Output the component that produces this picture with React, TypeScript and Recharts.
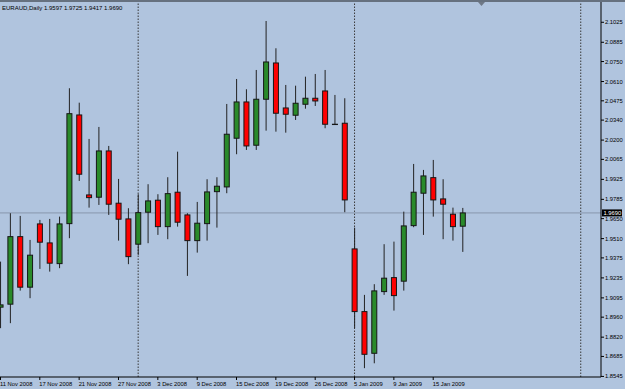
import { ComposedChart, Bar, XAxis, YAxis, ReferenceLine } from "recharts"

// EURAUD daily bars, 11 Nov 2008 .. 20 Jan 2009
const dates = [
  "11 Nov 2008", "12 Nov 2008", "13 Nov 2008", "14 Nov 2008", "17 Nov 2008", "18 Nov 2008",
  "19 Nov 2008", "20 Nov 2008", "21 Nov 2008", "24 Nov 2008", "25 Nov 2008", "26 Nov 2008",
  "27 Nov 2008", "28 Nov 2008", "1 Dec 2008", "2 Dec 2008", "3 Dec 2008", "4 Dec 2008",
  "5 Dec 2008", "8 Dec 2008", "9 Dec 2008", "10 Dec 2008", "11 Dec 2008", "12 Dec 2008",
  "15 Dec 2008", "16 Dec 2008", "17 Dec 2008", "18 Dec 2008", "19 Dec 2008", "22 Dec 2008",
  "23 Dec 2008", "24 Dec 2008", "26 Dec 2008", "29 Dec 2008", "30 Dec 2008", "31 Dec 2008",
  "5 Jan 2009", "6 Jan 2009", "7 Jan 2009", "8 Jan 2009", "9 Jan 2009", "12 Jan 2009",
  "13 Jan 2009", "14 Jan 2009", "15 Jan 2009", "16 Jan 2009", "19 Jan 2009", "20 Jan 2009",
]

const open = [
  1.9030, 1.9051, 1.9524, 1.9170, 1.9613, 1.9480, 1.9335, 1.9615, 2.0376, 1.9816, 1.9800, 2.0124,
  1.9758, 1.9648, 1.9471, 1.9695, 1.9779, 1.9594, 1.9835, 1.9676, 1.9496, 1.9615, 1.9839, 1.9872,
  2.0213, 2.0467, 2.0164, 2.0486, 2.0740, 2.0425, 2.0374, 2.0451, 2.0493, 2.0544, 2.0311, 2.0318,
  1.9438, 1.8999, 1.8707, 1.9139, 1.9237, 1.9212, 1.9601, 1.9828, 1.9937, 1.9788, 1.9681, 1.9597,
]
const high = [
  1.9349, 1.9688, 1.9669, 1.9501, 1.9641, 1.9648, 1.9664, 2.0563, 2.0462, 2.0208, 2.0292, 2.0159,
  1.9928, 1.9723, 1.9821, 1.9891, 1.9821, 1.9940, 2.0119, 1.9688, 1.9767, 1.9926, 1.9940, 2.0453,
  2.0628, 2.0556, 2.0691, 2.1034, 2.0843, 2.0586, 2.0581, 2.0644, 2.0663, 2.0691, 2.0516, 2.0493,
  1.9587, 1.9116, 1.9191, 1.9471, 1.9489, 1.9699, 2.0033, 1.9991, 2.0061, 1.9926, 1.9727, 1.9725,
]
const low = [
  1.8883, 1.8918, 1.9146, 1.9093, 1.9298, 1.9279, 1.9303, 1.9513, 1.9914, 1.9727, 1.9746, 1.9676,
  1.9496, 1.9331, 1.9396, 1.9478, 1.9536, 1.9506, 1.9594, 1.9249, 1.9412, 1.9496, 1.9587, 1.9828,
  2.0101, 2.0131, 2.0131, 2.0266, 2.0259, 2.0252, 2.0341, 2.0420, 2.0439, 2.0283, 2.0306, 1.9695,
  1.8883, 1.8603, 1.8637, 1.9116, 1.9006, 1.9146, 1.9590, 1.9536, 1.9664, 1.9506, 1.9496, 1.9417,
]
const close = [
  1.9046, 1.9524, 1.9170, 1.9394, 1.9485, 1.9338, 1.9613, 2.0385, 1.9961, 1.9797, 2.0124, 1.9751,
  1.9646, 1.9384, 1.9692, 1.9774, 1.9594, 1.9825, 1.9625, 1.9496, 1.9618, 1.9837, 1.9877, 2.0241,
  2.0467, 2.0159, 2.0486, 2.0747, 2.0388, 2.0381, 2.0458, 2.0493, 2.0474, 2.0311, 2.0310, 1.9781,
  1.8999, 1.8700, 1.9144, 1.9233, 1.9111, 1.9599, 1.9835, 1.9949, 1.9781, 1.9751, 1.9594, 1.9690,
]

const priceTicks = [
  2.1025, 2.0885, 2.075, 2.061, 2.0475, 2.034, 2.02, 2.0065, 1.9925, 1.9785,
  1.965, 1.951, 1.9375, 1.9235, 1.9095, 1.896, 1.882, 1.8685, 1.8545,
]
const dateTicks = [0, 4, 8, 12, 16, 20, 24, 28, 32, 36, 40, 44]
const monthStarts = [14, 36, 59]
const symbol = "EURAUD,Daily"
const lastPrice = 1.969

const data = dates.map((date, i) => ({
  i,
  date,
  open: open[i],
  high: high[i],
  low: low[i],
  close: close[i],
}))

const FONT = "'Liberation Sans', Arial, sans-serif"
const BG = "#b0c4de"

function Candle(props: any) {
  const { x, y, width, height, payload } = props
  if (x == null || y == null) return null
  const cx = x + width / 2
  const top = Math.min(y, y + height)
  const span = Math.abs(height)
  const range = payload.high - payload.low || 1
  const px = (v: number) => top + ((payload.high - v) / range) * span
  const up = payload.close >= payload.open
  const bTop = px(Math.max(payload.open, payload.close))
  const bBot = px(Math.min(payload.open, payload.close))
  return (
    <g>
      <line x1={cx} x2={cx} y1={top} y2={top + span} stroke="#222" strokeWidth={1} />
      <rect
        x={cx - 2.5}
        y={bTop}
        width={5}
        height={Math.max(bBot - bTop, 0.3)}
        fill={up ? "#2a8a2a" : "#ff0000"}
        stroke="#161616"
        strokeWidth={1}
      />
    </g>
  )
}

function DateTick(props: any) {
  const { x, y, payload } = props
  return (
    <text x={x - 0.5} y={y} dy="0.71em" textAnchor="start" fontSize={5.8} fontFamily={FONT} fill="#000">
      {dates[payload.value]}
    </text>
  )
}

function PriceBox(props: any) {
  const { viewBox } = props
  const bx = viewBox.x + viewBox.width + 1
  return (
    <g>
      <rect x={bx} y={viewBox.y - 3.5} width={20} height={7} fill="#000" />
      <text x={bx + 1.5} y={viewBox.y + 2.1} fontSize={5.8} fontFamily={FONT} fill="#fff">
        {lastPrice.toFixed(4)}
      </text>
    </g>
  )
}

export default function App() {
  const last = data[data.length - 1]
  return (
    <div
      style={{
        position: "absolute",
        left: 0,
        top: 0,
        width: 625,
        height: 389,
        background: BG,
        borderTop: "2px solid #66717f",
        boxSizing: "border-box",
      }}
    >
      <svg width={625} height={12} style={{ position: "absolute", left: 0, top: 0 }}>
        <text x={2} y={7.5} fontSize={6} fontFamily={FONT} fill="#000">
          {`${symbol}  ${last.open.toFixed(4)} ${last.high.toFixed(4)} ${last.low.toFixed(4)} ${last.close.toFixed(4)}`}
        </text>
        <path d="M478 0 L485 0 L481.5 4 Z" fill="#6e7886" />
      </svg>
      <ComposedChart width={625} height={387} data={data} margin={{ top: 0, right: 0, bottom: 0, left: 0 }}>
        <XAxis
          dataKey="i"
          type="number"
          domain={[-0.048, 61.06]}
          allowDataOverflow
          ticks={dateTicks}
          interval={0}
          height={12}
          tickSize={3}
          tickMargin={2}
          axisLine={{ stroke: "#000" }}
          tickLine={{ stroke: "#000" }}
          tick={<DateTick />}
        />
        <YAxis
          orientation="right"
          type="number"
          domain={[1.8541, 2.1167]}
          allowDataOverflow
          ticks={priceTicks}
          interval={0}
          width={24}
          tickSize={3}
          tickMargin={1}
          axisLine={{ stroke: "#000" }}
          tickLine={{ stroke: "#000" }}
          tick={{ fontSize: 5.8, fill: "#000", fontFamily: FONT }}
          tickFormatter={(v: number) => v.toFixed(4)}
        />
        {monthStarts.map((m) => (
          <ReferenceLine
            key={m}
            x={m}
            stroke="#3a3a3a"
            strokeDasharray="1.5 1.5"
            ifOverflow="visible"
            zIndex={50}
          />
        ))}
        <ReferenceLine y={lastPrice} stroke="#8797ad" strokeWidth={1} zIndex={50} />
        <Bar
          dataKey={(d: any) => [d.low, d.high]}
          barSize={6}
          shape={<Candle />}
          isAnimationActive={false}
        />
        <ReferenceLine y={lastPrice} stroke="none" label={<PriceBox />} />
      </ComposedChart>
    </div>
  )
}
